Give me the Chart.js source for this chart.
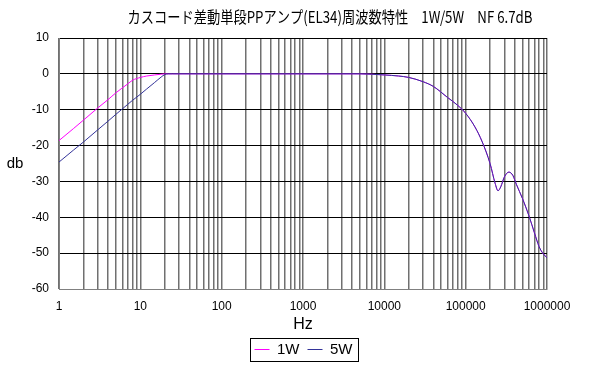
<!DOCTYPE html>
<html>
<head>
<meta charset="utf-8">
<script src="https://cdn.jsdelivr.net/npm/chart.js@4.4.1/dist/chart.umd.min.js"></script>
<style>
    html, body { margin: 0; padding: 0; background: #fff; }
    #wrap { width: 600px; height: 368px; }
</style>
</head>
<body>
<div id="wrap"><canvas id="fChart"></canvas></div>
<script>
// 周波数 (Hz)
const freqs = [1, 1.5, 2, 3, 4, 5, 7, 8, 10, 12, 15, 18, 20, 22, 25, 50, 100, 200, 500,
    1000, 2000, 3000, 5000, 7000, 10000, 15000, 20000, 30000, 40000, 60000, 80000,
    100000, 130000, 160000, 200000, 230000, 250000, 270000, 300000, 340000, 380000,
    420000, 500000, 600000, 700000, 800000, 900000, 1000000];

// 1W 出力時のゲイン (dB)
const gain1W = [-18.6, -15.3, -12.9, -9.5, -7.2, -5.3, -2.8, -1.8, -1.0, -0.6, -0.3, -0.1, 0, 0, 0, 0, 0, 0, 0,
    0, 0, 0, 0, -0.1, -0.3, -0.6, -1.0, -2.2, -3.5, -6.6, -8.8,
    -11.0, -14.8, -19.0, -25.1, -30.5, -32.6, -31.5, -28.7, -27.4, -28.3,
    -30.8, -34.8, -39.6, -44.3, -48.2, -50.2, -51.3];

// 5W 出力時のゲイン (dB)
const gain5W = [-24.6, -21.3, -19.0, -15.6, -13.2, -11.3, -8.5, -7.4, -5.7, -4.2, -2.4, -0.9, -0.2, 0, 0, 0, 0, 0, 0,
    0, 0, 0, 0, -0.1, -0.3, -0.6, -1.0, -2.2, -3.5, -6.6, -8.8,
    -11.0, -14.8, -19.0, -25.1, -30.5, -32.6, -31.5, -28.7, -27.4, -28.3,
    -30.8, -34.8, -39.6, -44.3, -48.2, -50.2, -51.3];

const seriesNames = ["1W", "5W"];
const yTicks = [10, 0, -10, -20, -30, -40, -50, -60];
const decadeLabels = [1, 10, 100, 1000, 10000, 100000, 1000000];
const chartTitle = "カスコード差動単段PPアンプ(EL34)周波数特性　1W/5W　NF 6.7dB";

function toPoints(gains) {
    return freqs.map((f, i) => ({ x: f, y: gains[i] }));
}

// タイトル、縦軸タイトル「db」(横書き)、凡例の位置と枠
const extrasPlugin = {
    id: "extras",
    afterUpdate(chart) {
        // 凡例を図の中央寄りへ移動
        const legend = chart.legend;
        const shift = 30;
        legend.left += shift;
        legend.right += shift;
        legend.legendHitBoxes.forEach(b => { b.left += shift; });
    },
    afterDraw(chart) {
        const ctx = chart.ctx;
        const area = chart.chartArea;
        ctx.save();
        ctx.fillStyle = "#000";
        ctx.textAlign = "center";
        ctx.textBaseline = "middle";

        ctx.font = "16px 'Noto Sans CJK JP', sans-serif";
        ctx.fillText(chartTitle, 330, 17, 405);

        ctx.font = "15px 'Liberation Sans', Arial, sans-serif";
        ctx.fillText("db", 15, (area.top + area.bottom) / 2);

        const boxes = chart.legend.legendHitBoxes;
        if (boxes && boxes.length) {
            const left = Math.min(...boxes.map(b => b.left)) - 5;
            const right = Math.max(...boxes.map(b => b.left + b.width)) + 5;
            const top = Math.min(...boxes.map(b => b.top)) - 4;
            const bottom = Math.max(...boxes.map(b => b.top + b.height)) + 4;
            ctx.strokeStyle = "#000";
            ctx.lineWidth = 1;
            ctx.strokeRect(Math.round(left) + 0.5, Math.round(top) + 0.5,
                Math.round(right - left), Math.round(bottom - top));
        }
        ctx.restore();
    }
};

const ctx = document.getElementById("fChart").getContext("2d");
new Chart(ctx, {
    type: "line",
    data: {
        datasets: [
            {
                label: seriesNames[0],
                data: toPoints(gain1W),
                borderColor: "#FF00FF",
                backgroundColor: "#FF00FF",
                borderWidth: 1,
                pointRadius: 0,
                cubicInterpolationMode: "monotone",
                order: 2
            },
            {
                label: seriesNames[1],
                data: toPoints(gain5W),
                borderColor: "#333399",
                backgroundColor: "#333399",
                borderWidth: 1,
                pointRadius: 0,
                cubicInterpolationMode: "monotone",
                order: 1
            }
        ]
    },
    options: {
        responsive: true,
        maintainAspectRatio: false,
        animation: false,
        layout: { padding: { left: 0, right: 53, top: 38, bottom: 1 } },
        scales: {
            x: {
                type: "logarithmic",
                min: 1,
                max: 1000000,
                afterBuildTicks(scale) {
                    const ticks = [];
                    decadeLabels.forEach(d => {
                        for (let m = 1; m <= 9; m++) {
                            const v = d * m;
                            if (v <= 1000000) ticks.push({ value: v });
                        }
                    });
                    scale.ticks = ticks;
                },
                afterFit(scale) { scale.height = 45; },
                grid: { color: "#707070", lineWidth: 1.5, drawTicks: false },
                border: { color: "#808080" },
                ticks: {
                    autoSkip: false,
                    maxRotation: 0,
                    padding: 10,
                    color: "#000",
                    font: { family: "'Liberation Sans', Arial, sans-serif", size: 12 },
                    callback: (v) => decadeLabels.includes(v) ? String(v) : ""
                },
                title: {
                    display: true,
                    text: "Hz",
                    color: "#000",
                    padding: { top: 0, bottom: 0 },
                    font: { family: "'Liberation Sans', Arial, sans-serif", size: 16 }
                }
            },
            y: {
                min: -60,
                max: 10,
                afterBuildTicks(scale) {
                    scale.ticks = yTicks.map(v => ({ value: v }));
                },
                afterFit(scale) { scale.width = 59; },
                grid: { color: "#000", lineWidth: 1, drawTicks: false },
                border: { color: "#808080" },
                ticks: {
                    padding: 10,
                    color: "#000",
                    font: { family: "'Liberation Sans', Arial, sans-serif", size: 12 }
                }
            }
        },
        plugins: {
            title: { display: false },
            legend: {
                position: "bottom",
                labels: {
                    usePointStyle: true,
                    pointStyle: "line",
                    pointStyleWidth: 15,
                    boxHeight: 14,
                    padding: 8,
                    color: "#000",
                    font: { family: "'Liberation Sans', Arial, sans-serif", size: 15 },
                    sort: (a, b) => a.datasetIndex - b.datasetIndex
                }
            },
            tooltip: { enabled: false }
        }
    },
    plugins: [extrasPlugin]
});
</script>
</body>
</html>
